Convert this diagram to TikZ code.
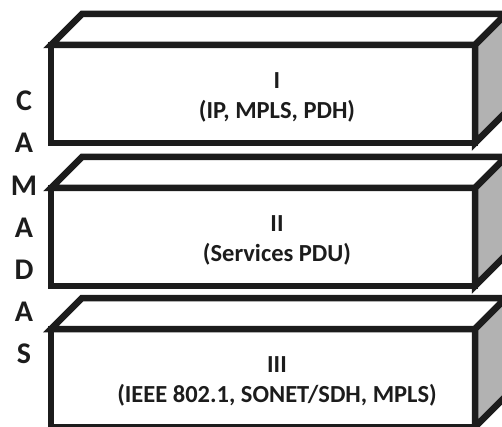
\documentclass[tikz,border=0pt]{standalone}
\usepackage{fontspec}
\setmainfont{Carlito}
\definecolor{EdgeClr}{rgb}{0.11,0.11,0.11}
\definecolor{SideClr}{rgb}{0.70,0.70,0.70}
\tikzset{
  layer/.style={line width=6.5pt,draw=EdgeClr,line join=miter},
  layerlabel/.style={font=\bfseries\fontsize{24.5}{30}\selectfont,align=center,text=EdgeClr},
  sideletter/.style={font=\bfseries\fontsize{30}{30}\selectfont,text=EdgeClr}
}

\begin{document}
\begin{tikzpicture}[x=1pt,y=-1pt]
\clip (0,0) rectangle (502,427);
\useasboundingbox (0,0) rectangle (502,427);

\foreach \ytop/\num/\proto [count=\i] in {45/I/{IP, MPLS, PDH},188/II/{Services PDU},329/III/{IEEE 802.1, SONET/SDH, MPLS}}{
  \coordinate (front\i) at (51,\ytop);
  \coordinate (back\i) at (82,\ytop-31);
  \coordinate (corner\i) at (475,\ytop);
  \filldraw[layer,fill=white] (front\i) rectangle (475,\ytop+98);
  \filldraw[layer,fill=white] (front\i) -- (back\i) -- (506,\ytop-31) -- (corner\i) -- cycle;
  \filldraw[layer,fill=SideClr] (corner\i) -- (506,\ytop-31) -- (506,\ytop+67) -- (475,\ytop+98) -- cycle;
  \node[layerlabel] (layer\i) at (277,\ytop+52) {\num\\(\proto)};
}

\foreach \ch [count=\k] in {C,A,M,A,D,A,S}
  \node[sideletter] (side\k) at (24,{101+42.2*(\k-1)}) {\ch};

\end{tikzpicture}
\end{document}
